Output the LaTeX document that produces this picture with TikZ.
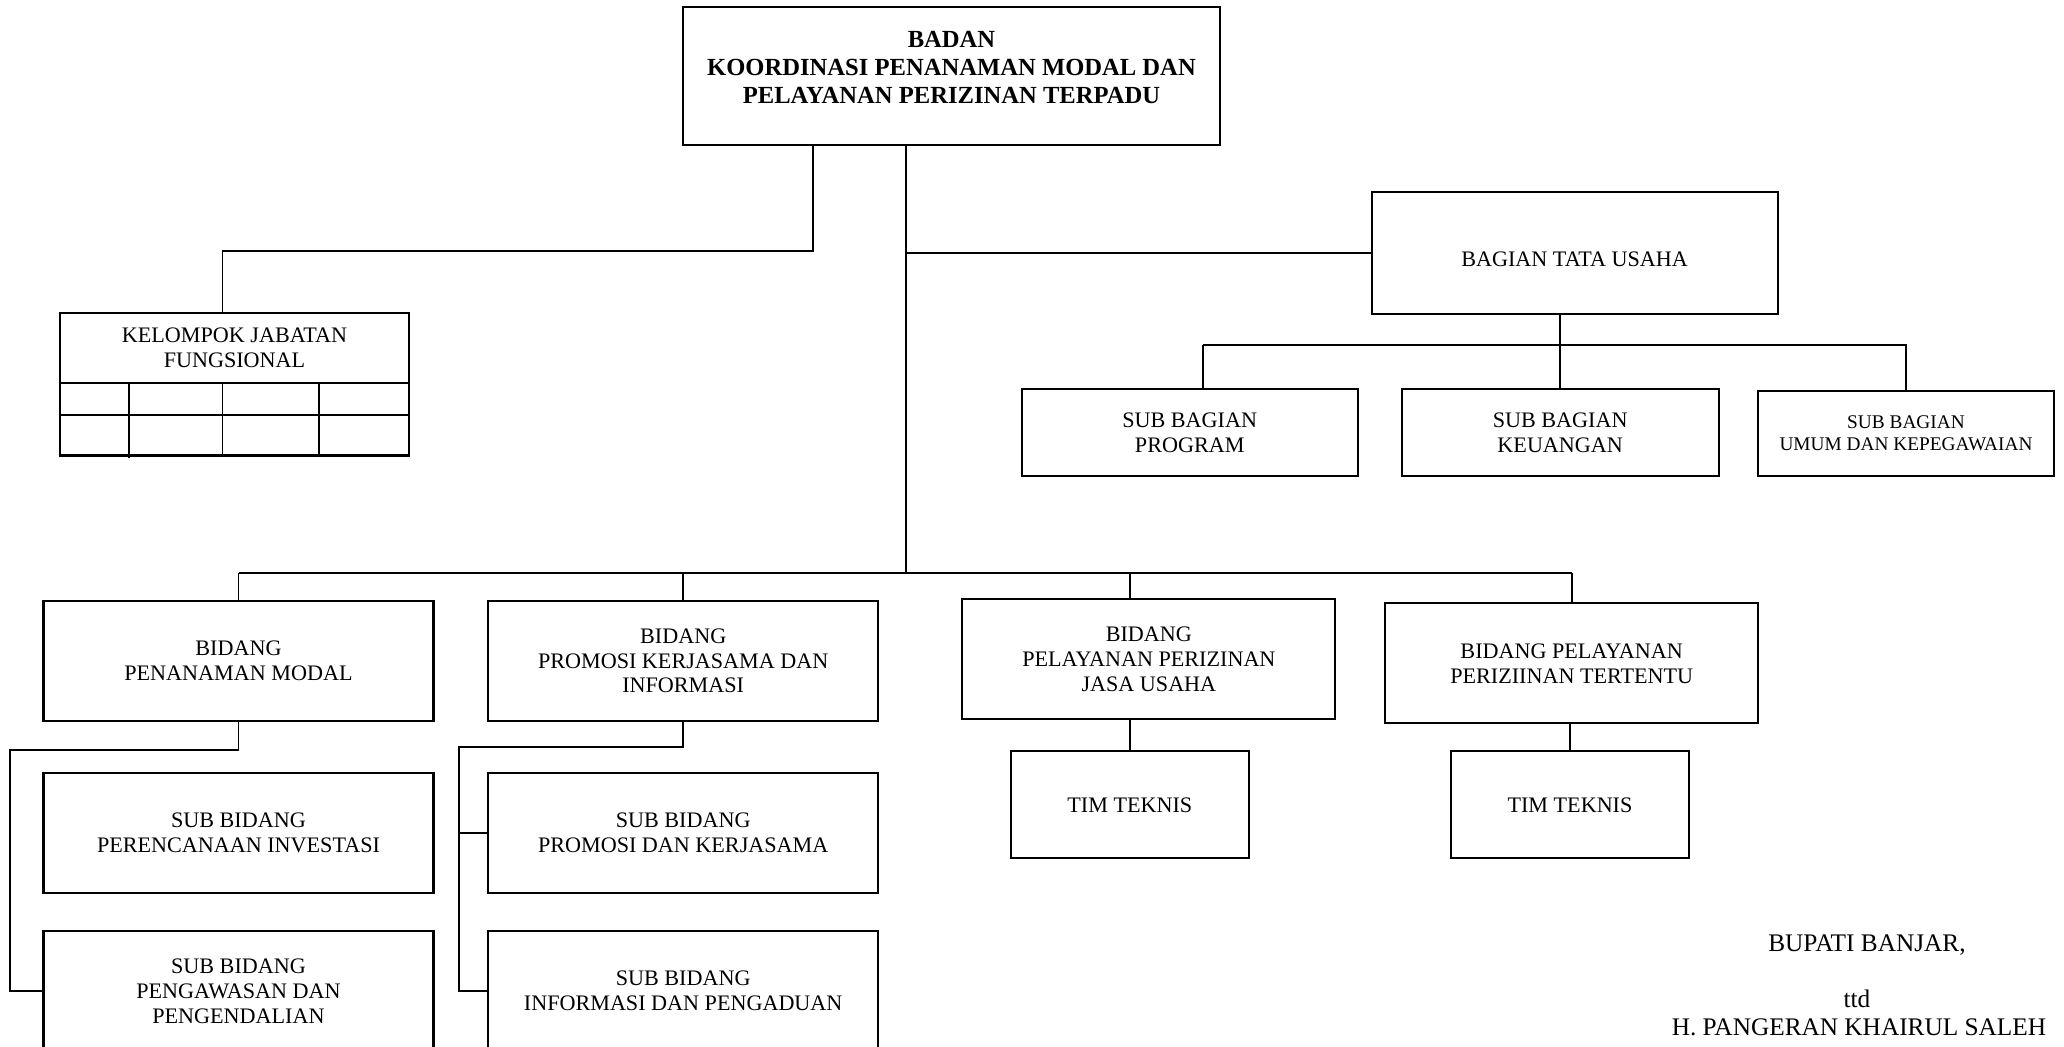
\documentclass[tikz,border=0pt]{standalone}
\usepackage{fontspec}
\setmainfont{Liberation Serif}
\usetikzlibrary{positioning}

\begin{document}
\begin{tikzpicture}[
        x=0.1mm, y=-0.1mm,
        box/.style={draw, line width=0.6pt, align=center, inner sep=0pt,
        font=\fontsize{6.3}{7.1}\selectfont},
        bidang/.style={box, minimum width=39mm, minimum height=12mm},
        subbagian/.style={box, minimum height=8.75mm},
        timbox/.style={box, minimum width=23.8mm, minimum height=10.7mm},
        title box/.style={box, minimum width=53.7mm, minimum height=13.8mm,
        font=\bfseries\fontsize{7}{8}\selectfont},
        sign/.style={anchor=base, font=\fontsize{7.2}{8}\selectfont},
        connector/.style={line width=0.55pt}
        ]
        \useasboundingbox (0,0) rectangle (2064,1047);
        \clip (0,0) rectangle (2064,1047);

        % kepala badan
        \node[title box] (badan) at (951.5,76)
            {BADAN\\KOORDINASI PENANAMAN MODAL DAN\\PELAYANAN PERIZINAN TERPADU\rule[-1.8mm]{0pt}{0pt}};

        % kelompok jabatan fungsional
        \node[box, minimum width=34.9mm, minimum height=6.92mm] (kjf) at (234.5,348)
            {KELOMPOK JABATAN\\FUNGSIONAL};
        \draw[line width=0.6pt] (60,382.7) rectangle (409,455.5);
        \draw[line width=0.6pt] (60,414.7) -- (409,414.7);
        \foreach \x/\y in {129/458, 222.5/455.5, 319/455.5}
            \draw[connector] (\x,382.7) -- (\x,\y);

        % sekretariat
        \node[box, minimum width=40.6mm, minimum height=12.2mm] (tu) at (1574.6,253.4)
            {\rule{0pt}{2.67mm}BAGIAN TATA USAHA};
        \node[subbagian, minimum width=33.6mm] (sbp) at (1189.7,432.5) {SUB BAGIAN\\PROGRAM};
        \node[subbagian, minimum width=31.7mm] (sbk) at (1560.2,432.5) {SUB BAGIAN\\KEUANGAN};
        \node[subbagian, minimum width=29.6mm, minimum height=8.5mm, font=\fontsize{5.5}{6.2}\selectfont]
            (sbu) at (1906,433.6) {SUB BAGIAN\\UMUM DAN KEPEGAWAIAN};

        % bidang
        \node[bidang] (bpm) at (238.5,660.8) {BIDANG\\PENANAMAN MODAL};
        \node[bidang] (bpk) at (683.2,660.8) {BIDANG\\PROMOSI KERJASAMA DAN\\INFORMASI};
        \node[bidang, minimum width=37.3mm] (bju) at (1148.9,659.4) {BIDANG\\PELAYANAN PERIZINAN\\JASA USAHA};
        \node[bidang, minimum width=37.3mm] (bpt) at (1571.7,663.4) {BIDANG PELAYANAN\\PERIZIINAN TERTENTU};

        % sub bidang
        \node[bidang] (spi) at (238.5,832.8) {SUB BIDANG\\PERENCANAAN INVESTASI};
        \node[bidang] (spe) at (238.5,991) {SUB BIDANG\\PENGAWASAN DAN\\PENGENDALIAN};
        \node[bidang] (spk) at (683.2,832.8) {SUB BIDANG\\PROMOSI DAN KERJASAMA};
        \node[bidang] (sip) at (683.2,991) {SUB BIDANG\\INFORMASI DAN PENGADUAN};

        % tim teknis
        \node[timbox] (tt1) at (1129.8,804.8) {TIM TEKNIS};
        \node[timbox] (tt2) at (1570,804.8) {TIM TEKNIS};

        % garis
        \coordinate (bus) at (906,573.4);
        \coordinate (k1) at (813,251.3);
        \coordinate (k2) at (222.5,251.3);
        \coordinate (tb) at (1203,345);
        \coordinate (pm1) at (9.9,749.8);
        \coordinate (pk1) at (458.8,747.4);

        \draw[connector] (badan.south -| bus) -- (bus);
        \draw[connector] (tu.west -| bus) -- (tu.west);
        \draw[connector] (badan.south -| k1) -- (k1) -- (k2) -- (kjf.north -| k2);
        \draw[connector] (bpm.north |- bus) -- (bpt.north |- bus);
        \foreach \n in {bpm,bpk,bpt}
            \draw[connector] (\n.north |- bus) -- (\n.north);
        \draw[connector] (tt1.north |- bus) -- (tt1.north |- bju.north);
        \draw[connector] (tt1.north |- bju.south) -- (tt1.north);
        \draw[connector] (tt2.north |- bpt.south) -- (tt2.north);
        \draw[connector] (tu.south -| sbk.north) -- (sbk.north);
        \draw[connector] (tb) -- (tb -| sbu.north) -- (sbu.north);
        \draw[connector] (tb) -- (sbp.north -| tb);
        \draw[connector] (bpm.south) |- (pm1) |- (spe.west);
        \draw[connector] (bpk.south) |- (pk1) |- (sip.west);
        \draw[connector] (spk.west -| pk1) -- (spk.west);

        % tanda tangan
        \node[sign] (bupati) at (1867,951) {BUPATI BANJAR,};
        \node[sign] (ttd) at (1857,1007) {ttd};
        \node[sign] (nama) at (1859,1035) {H. PANGERAN KHAIRUL SALEH};
\end{tikzpicture}
\end{document}
